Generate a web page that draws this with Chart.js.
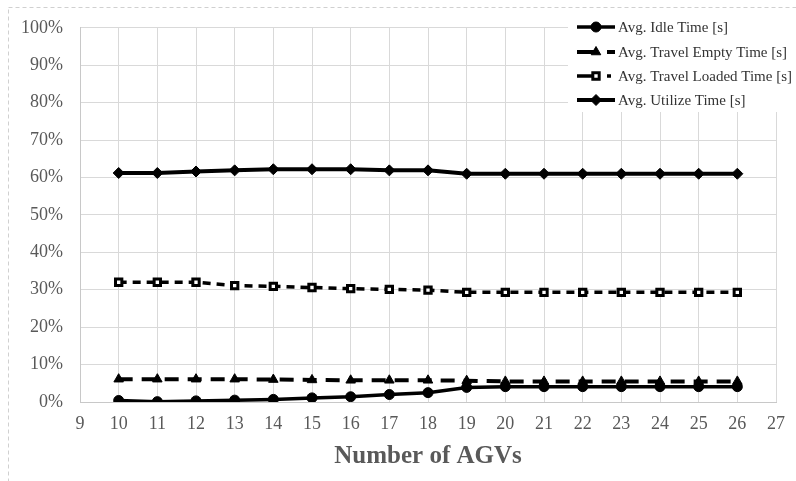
<!DOCTYPE html>
<html><head><meta charset="utf-8">
<script src="https://cdn.jsdelivr.net/npm/chart.js@4.4.1/dist/chart.umd.min.js"></script>
<style>html,body{margin:0;padding:0;background:#fff;}#wrap{width:796px;height:481px;}</style>
</head><body><div id="wrap"><canvas id="c" width="796" height="481"></canvas></div>
<script>
const agvs = [10,11,12,13,14,15,16,17,18,19,20,21,22,23,24,25,26];
const idleTime = [0.4,0.1,0.3,0.5,0.7,1.1,1.4,2.0,2.5,3.9,4.1,4.1,4.1,4.1,4.1,4.1,4.1];
const travelEmpty = [6.1,6.1,6.1,6.1,6.0,5.9,5.8,5.8,5.8,5.7,5.5,5.5,5.5,5.5,5.5,5.5,5.5];
const travelLoaded = [32.0,32.0,32.0,31.1,30.9,30.6,30.3,30.1,29.9,29.3,29.3,29.3,29.3,29.3,29.3,29.3,29.3];
const utilizeTime = [61.2,61.2,61.6,61.9,62.2,62.2,62.2,61.9,61.9,61.0,61.0,61.0,61.0,61.0,61.0,61.0,61.0];
const seriesNames = ['Avg. Idle Time [s]','Avg. Travel Empty Time [s]','Avg. Travel Loaded Time [s]','Avg. Utilize Time [s]'];
const xTitle = 'Number of AGVs';

const pts = arr => agvs.map((x,i)=>({x:x,y:arr[i]}));
const SERIF = '"Liberation Serif","Times New Roman",serif';

const frame = {
  id:'frame',
  beforeDraw(chart){
    const c = chart.ctx;
    c.save();
    c.fillStyle='#fff'; c.fillRect(0,0,chart.width,chart.height);
    c.strokeStyle='#d0d0d0'; c.lineWidth=1; c.setLineDash([4,3]);
    c.strokeRect(8.5,7.5,chart.width,chart.height);
    c.restore();
  }
};

const legendDashes = [[],[21,9],[19,11,4,10],[]];
const legendPlug = {
  id:'customLegend',
  afterDatasetsDraw(chart){
    const c = chart.ctx;
    c.save();
    c.fillStyle='#fff';
    c.fillRect(568,14,228,98);
    const ys=[27,52,76,100];
    chart.data.datasets.forEach((ds,i)=>{
      const y=ys[i];
      c.strokeStyle='#000'; c.lineWidth=ds.borderWidth;
      c.setLineDash(legendDashes[i]);
      c.beginPath(); c.moveTo(577,y); c.lineTo(615,y); c.stroke();
      c.setLineDash([]);
      c.fillStyle=ds.pointBackgroundColor; c.strokeStyle='#000'; c.lineWidth=ds.pointBorderWidth;
      Chart.helpers.drawPoint(c,{pointStyle:ds.pointStyle,rotation:0,radius:ds.pointRadius,borderWidth:ds.pointBorderWidth},596,y);
      c.fillStyle='#333'; c.font='15px '+SERIF; c.textBaseline='middle'; c.textAlign='left';
      c.fillText(ds.label,618,y+1);
    });
    c.restore();
  }
};

const common = {borderColor:'#000',pointBorderColor:'#000',tension:0,fill:false};
new Chart(document.getElementById('c'),{
  type:'line',
  data:{datasets:[
    Object.assign({label:seriesNames[0],data:pts(idleTime),borderWidth:3.5,pointStyle:'circle',pointRadius:5,pointBackgroundColor:'#000',pointBorderWidth:1},common),
    Object.assign({label:seriesNames[1],data:pts(travelEmpty),borderWidth:4,borderDash:[14,9],pointStyle:'triangle',pointRadius:5.5,pointBackgroundColor:'#000',pointBorderWidth:1},common),
    Object.assign({label:seriesNames[2],data:pts(travelLoaded),borderWidth:3.5,borderDash:[8,6],pointStyle:'rect',pointRadius:4.5,pointBackgroundColor:'#fff',pointBorderWidth:3},common),
    Object.assign({label:seriesNames[3],data:pts(utilizeTime),borderWidth:4,pointStyle:'rectRot',pointRadius:5.5,pointBackgroundColor:'#000',pointBorderWidth:1},common)
  ]},
  options:{
    responsive:false,animation:false,
    layout:{padding:{left:0,right:16,top:25,bottom:0}},
    plugins:{legend:{display:false},tooltip:{enabled:false}},
    scales:{
      x:{type:'linear',min:9,max:27,
        afterFit(s){s.height=79;},
        grid:{color:'#d9d9d9',drawTicks:false},
        border:{color:'#c8c8c8'},
        ticks:{stepSize:1,padding:11,color:'#595959',font:{family:SERIF,size:18}},
        title:{display:true,text:xTitle,color:'#595959',font:{family:SERIF,size:25,weight:'bold'},padding:{top:4,bottom:9}}
      },
      y:{min:0,max:100,
        afterFit(s){s.width=80;},
        grid:{color:'#d9d9d9',drawTicks:false},
        border:{color:'#c8c8c8'},
        ticks:{stepSize:10,padding:17,color:'#595959',font:{family:SERIF,size:18},callback:v=>v+'%'}
      }
    }
  },
  plugins:[frame,legendPlug]
});
</script></body></html>
